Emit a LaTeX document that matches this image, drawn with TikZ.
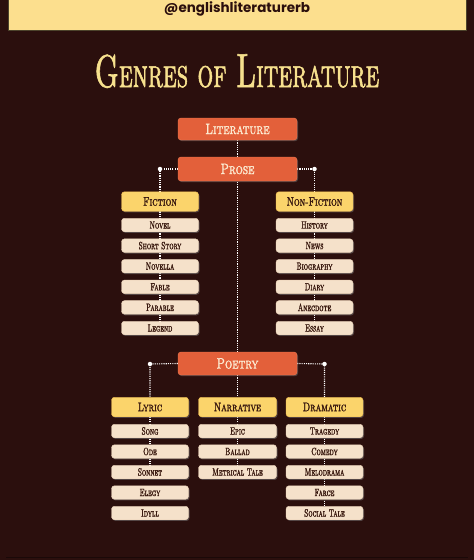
\documentclass[tikz,border=0pt]{standalone}
\usepackage{fontspec}
\newfontfamily\handlefont{Poppins}
\newfontfamily\titlefont{lmromancaps10-regular.otf}[FakeStretch=0.62,FakeBold=1.3]
\newfontfamily\mainfont{lmromancaps10-regular.otf}[FakeStretch=0.76,FakeBold=1.6]
\newfontfamily\headfont{lmromancaps10-regular.otf}[FakeStretch=0.72,FakeBold=1.8]
\newfontfamily\itemfont{lmromancaps10-regular.otf}[FakeStretch=0.64,FakeBold=1.6]
\usetikzlibrary{shadows}
\definecolor{bgc}{HTML}{2B0F0D}
\definecolor{bannerc}{HTML}{FCDF8E}
\definecolor{orangec}{HTML}{E3603A}
\definecolor{orangeb}{HTML}{F07A52}
\definecolor{yellowc}{HTML}{FBD46B}
\definecolor{yellowb}{HTML}{F3BE50}
\definecolor{itemc}{HTML}{F5E1CA}
\definecolor{itemb}{HTML}{EBD2B8}
\definecolor{darktext}{HTML}{3A1A10}
\definecolor{lighttext}{HTML}{FCEBD2}
\definecolor{titlec}{HTML}{F7E18E}
\pgfdeclarelayer{bgzero}
\pgfdeclarelayer{lines}
\pgfsetlayers{bgzero,lines,main}
\tikzset{
  x=1pt,y=-1pt,
  mainbox/.style={draw=orangeb,fill=orangec,rounded corners=3pt,minimum width=119pt,minimum height=23pt,inner sep=0pt,text=lighttext,font=\mainfont\fontsize{15}{15}\selectfont,drop shadow={opacity=0.45,shadow xshift=1pt,shadow yshift=-1.2pt}},
  headbox/.style={draw=yellowb,fill=yellowc,rounded corners=3pt,minimum width=77pt,minimum height=19.5pt,inner sep=0pt,text=darktext,font=\headfont\fontsize{12.5}{12.5}\selectfont,drop shadow={opacity=0.45,shadow xshift=1pt,shadow yshift=-1.2pt}},
  itembox/.style={draw=itemb,fill=itemc,rounded corners=3pt,minimum width=77pt,minimum height=13.5pt,inner sep=0pt,text=darktext,font=\itemfont\fontsize{10.5}{10.5}\selectfont,drop shadow={opacity=0.5,shadow xshift=1pt,shadow yshift=-1.2pt}},
  link/.style={draw=white,line width=1.1pt,dash pattern=on 1.1pt off 1.1pt},
  dotnode/.style={circle,fill=white,inner sep=0pt,minimum size=4.5pt}
}
\begin{document}
\begin{tikzpicture}
\useasboundingbox (0,0) rectangle (474,560);
\begin{pgfonlayer}{bgzero}
\fill[bgc] (0,0) rectangle (474,560);
\fill[bannerc] (8,-2) rectangle (466,30);
\draw[color=black!70!bannerc,line width=0.8pt] (8,-2) -- (8,30) -- (466,30) -- (466,-2);
\draw[color=black!40!bgc,line width=0.8pt] (6,557) -- (468,557);
\end{pgfonlayer}
\node[anchor=base,text=bgc,font=\handlefont\bfseries\fontsize{13.5}{13.5}\selectfont,inner sep=0pt] (handle) at (237,12) {@englishliteraturerb};
\node[text=titlec,inner sep=0pt,font=\titlefont\fontsize{40}{40}\selectfont,anchor=base] (title) at (237,87) {{\fontsize{46}{46}\selectfont G}enres of {\fontsize{48}{48}\selectfont L}iterature};
% main boxes
\node[mainbox,minimum height=22pt] (lit) at (237.5,129) {Literature};
\node[mainbox,minimum height=24pt] (prose) at (237.5,169) {Prose};
\node[mainbox] (poetry) at (237.5,363.5) {Poetry};
% prose branch
\node[headbox] (fic) at (160,201.5) {Fiction};
\node[headbox] (nonfic) at (314.5,201.5) {Non-Fiction};
\node[dotnode] (dpl) at (160,169) {};
\node[dotnode] (dpr) at (314.5,169) {};
\foreach \t [count=\i] in {Novel,Short Story,Novella,Fable,Parable,Legend}{
  \pgfmathsetmacro\yy{225+20.6*(\i-1)}
  \node[itembox] (f\i) at (160,\yy) {\t};
}
\foreach \t [count=\i] in {History,News,Biography,Diary,Anecdote,Essay}{
  \pgfmathsetmacro\yy{225+20.6*(\i-1)}
  \node[itembox] (n\i) at (314.5,\yy) {\t};
}
% poetry branch
\node[headbox] (lyr) at (150,407) {Lyric};
\node[headbox,minimum width=78pt] (nar) at (237.5,407) {Narrative};
\node[headbox] (dra) at (324.5,407) {Dramatic};
\node[dotnode] (dql) at (150,364) {};
\node[dotnode] (dqr) at (324.5,364) {};
\foreach \t [count=\i] in {Song,Ode,Sonnet,Elegy,Idyll}{
  \pgfmathsetmacro\yy{431+20.5*(\i-1)}
  \node[itembox] (l\i) at (150,\yy) {\t};
}
\foreach \t [count=\i] in {Epic,Ballad,Metrical Tale}{
  \pgfmathsetmacro\yy{431+20.5*(\i-1)}
  \node[itembox,minimum width=78pt] (e\i) at (237.5,\yy) {\t};
}
\foreach \t [count=\i] in {Tragedy,Comedy,Melodrama,Farce,Social Tale}{
  \pgfmathsetmacro\yy{431+20.5*(\i-1)}
  \node[itembox] (d\i) at (324.5,\yy) {\t};
}
\begin{pgfonlayer}{lines}
\draw[link] (lit.south) -- (poetry.north);
\draw[link] (poetry.south) -- (nar.north);
\draw[link] (prose.west) -- (dpl.center) -- (fic.north);
\draw[link] (prose.east) -- (dpr.center) -- (nonfic.north);
\draw[link] (fic.south) -- (f6.center);
\draw[link] (nonfic.south) -- (n6.center);
\draw[link] (poetry.west) -- (dql.center) -- (lyr.north);
\draw[link] (poetry.east) -- (dqr.center) -- (dra.north);
\draw[link] (lyr.south) -- (l3.center);
\draw[link] (nar.south) -- (e3.center);
\draw[link] (dra.south) -- (d5.center);
\end{pgfonlayer}
\end{tikzpicture}
\end{document}
